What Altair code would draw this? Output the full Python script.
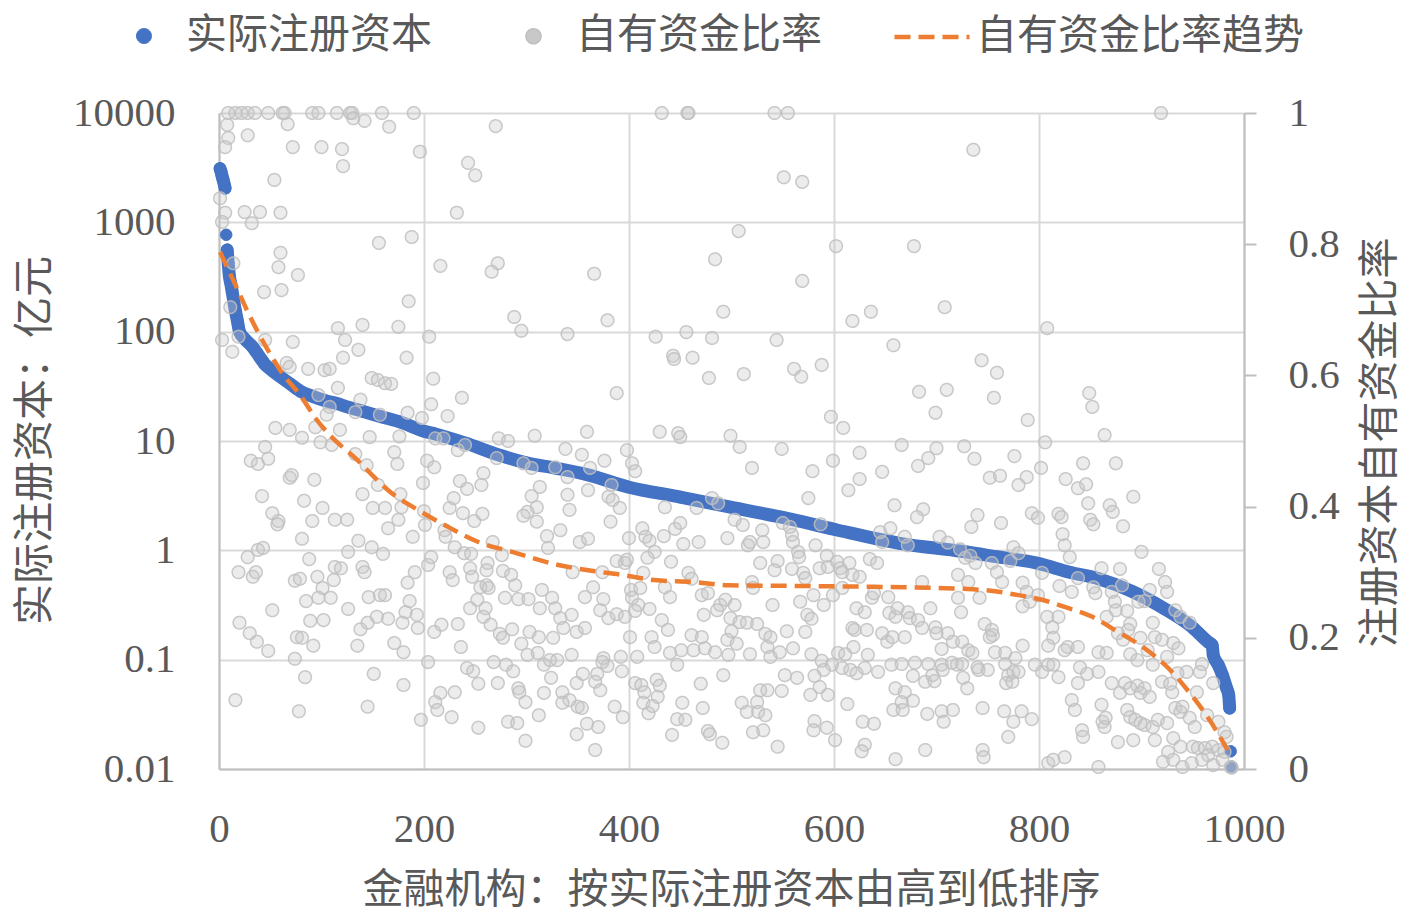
import altair as alt
import pandas as pd

series_names = ["实际注册资本", "自有资金比率", "自有资金比率趋势"]

# Registered capital (亿元), sorted descending by rank
capital_rank = [1,2,3,4,5,6,7,8,9,10,12,14,16,18,20,25,32,40,45,52,61,70,81,92,103,115,126,140,159,177,
                201,211,240,274,300,328,360,399,450,499,550,601,664,725,760,799,830,858,891,923,949,965,969,970,975,
                979,983,985,986,987,988]
capital_value = [3100,2900,2650,2450,2250,2050,770,560,420,330,260,200,155,125,100,86,74,58,50,44,38,33,28,25.5,23.5,
                 22,20.4,18.7,16.6,14.9,12.2,11.6,9.6,7.4,6.3,5.65,4.9,3.8,3.07,2.48,2.0,1.55,1.16,0.98,0.87,
                 0.76,0.63,0.55,0.42,0.29,0.20,0.145,0.136,0.11,0.089,0.072,0.055,0.048,0.036,0.0145,0.0105]

# Own-fund ratio per institution (rank, ratio)
ratio_points = [
 (9,1),(16,1),(22,1),(28,1),(35,1),(48,1),(62,1),(64,1),(91,1),(97,1),(115,1),(128,1),(130,1),(159,1),(190,1),
 (432,1),(457,1),(458,1),(542,1),(555,1),(919,1),
 (166,.979),(142,.988),(131,.992),(67,.983),(8,.982),(9,.962),(6,.948),(28,.966),(72,.948),(100,.948),(120,.945),
 (121,.919),(54,.898),(1,.870),(6,.848),(25,.849),(40,.849),(60,.848),(32,.832),(3,.834),(156,.802),(14,.771),
 (60,.787),(58,.765),(77,.753),(44,.727),(61,.730),(11,.704),(116,.672),(140,.677),(123,.654),(136,.639),(3,.654),
 (19,.659),(45,.654),(72,.651),(13,.636),(121,.627),(66,.619),(69,.613),(87,.610),(103,.608),(108,.610),(116,.581),
 (149,.596),(155,.593),(162,.588),(138,.563),(157,.540),(108,.552),(97,.570),(105,.540),(133,.544),(55,.520),
 (69,.517),(94,.521),(118,.517),(81,.505),
 (99,.498),(110,.494),(147,.506),(45,.491),(31,.470),(38,.465),(48,.473),(69,.444),(71,.448),(93,.441),(42,.416),
 (83,.409),(52,.390),(58,.378),(57,.373),(91,.378),(101,.398),(113,.380),(125,.380),(140,.419),(150,.398),(162,.398),
 (133,.480),(144,.463),(155,.433),(81,.351),(28,.323),(38,.334),(43,.337),(19,.300),(33,.293),(36,.300),(74,.287),
 (79,.290),(96,.293),(101,.276),(112,.288),(113,.308),(119,.306),(88,.320),(126,.331),(136,.348),(149,.338),
 (160,.328),(140,.308),(142,.300),(52,.242),(85,.256),(97,.261),(109,.261),(126,.244),(146,.262),(157,.265),
 (162,.265),(20,.223),(30,.207),(37,.194),(48,.180),(76,.201),(81,.200),(92,.188),(89,.226),(102,.227),(138,.213),
 (145,.223),(154,.232),(165,.229),(135,.188),(74,.168),(84,.140),(151,.145),(16,.105),(78,.088),(145,.095),
 (196,.941),(270,.980),(243,.924),(250,.905),(232,.848),(188,.811),(216,.767),(272,.771),(266,.758),(185,.713),
 (175,.674),(205,.659),(288,.689),(295,.668),(183,.627),(168,.587),(209,.595),(237,.566),(207,.556),(223,.538),
 (184,.543),(198,.535),(176,.507),(211,.504),(219,.504),(273,.504),(282,.500),(308,.508),
 (233,.486),(240,.494),(271,.474),(297,.466),(305,.459),(328,.460),(171,.483),(174,.465),(203,.470),(210,.460),
 (199,.436),(235,.439),(242,.427),(256,.433),(258,.451),(313,.430),(305,.416),(310,.399),(301,.392),(297,.386),
 (310,.377),(320,.355),(321,.337),(177,.419),(178,.399),(175,.380),(165,.367),(189,.354),(201,.372),(200,.393),
 (225,.398),(229,.413),(238,.390),(249,.378),(257,.389),(220,.364),(221,.354),(230,.338),(239,.329),(246,.328),
 (267,.346),(276,.326),(191,.300),(184,.284),(204,.311),(207,.323),(225,.300),(228,.288),(245,.306),(247,.293),
 (262,.314),(261,.303),(255,.277),(261,.280),(263,.276),(277,.302),(285,.296),(289,.280),(252,.258),(260,.245),
 (245,.245),(279,.261),(292,.259),(302,.259),(315,.273),(313,.245),(325,.261),(186,.256),(182,.239),(179,.223),
 (193,.235),(194,.215),(210,.209),(217,.220),(233,.221),(258,.232),(265,.220),(274,.206),(277,.200),(286,.213),
 (295,.191),(303,.209),(312,.201),(171,.192),(180,.178),(236,.186),(204,.163),(242,.154),(248,.149),(268,.163),
 (280,.159),(287,.149),(301,.174),(311,.177),(317,.159),(323,.166),(180,.128),(216,.116),(211,.102),(213,.090),
 (230,.117),(253,.130),(272,.131),(292,.123),(293,.117),(299,.102),(317,.116),(324,.139),(197,.075),(227,.079),
 (253,.063),(282,.072),(291,.070),(312,.082),(299,.043),(328,.245),(326,.200),
 (484,.777),(366,.755),(492,.697),(379,.684),(340,.663),(426,.659),(456,.666),(481,.657),(443,.630),(444,.625),
 (462,.627),(478,.596),(388,.573),(359,.514),(430,.514),(448,.512),(450,.506),(499,.508),
 (338,.488),(354,.479),(376,.470),(398,.486),(403,.466),(406,.454),(362,.459),(340,.445),(340,.418),(360,.425),
 (342,.395),(383,.433),(380,.415),(384,.410),(391,.398),(382,.377),(333,.364),(352,.346),(360,.351),(400,.352),
 (413,.367),(416,.354),(420,.348),(425,.331),(435,.399),(434,.355),(445,.366),(450,.375),(453,.343),(468,.346),
 (481,.413),(487,.405),(466,.398),(496,.352),(388,.317),(396,.314),(398,.319),(418,.322),(414,.299),(441,.316),
 (345,.300),(374,.300),(365,.277),(357,.262),(375,.259),(402,.273),(411,.276),(403,.261),(409,.250),(420,.244),
 (435,.277),(440,.262),(458,.299),(461,.290),(471,.265),(477,.268),(489,.250),(486,.242),(333,.230),(344,.235),
 (372,.242),(380,.230),(388,.236),(396,.232),(406,.241),(432,.227),(438,.212),(473,.235),(336,.215),(349,.209),
 (357,.215),(401,.201),(422,.201),(425,.186),(461,.204),(471,.201),(440,.177),(451,.181),(463,.181),(474,.184),
 (484,.178),(496,.197),(344,.174),(375,.169),(379,.157),(374,.163),(392,.171),(408,.171),(393,.149),(447,.159),
 (330,.166),(355,.145),(369,.145),(367,.133),(349,.131),(372,.120),(406,.131),(412,.128),(427,.136),(430,.127),
 (428,.110),(415,.117),(470,.130),(492,.143),(335,.117),(342,.105),(335,.101),(350,.095),(354,.093),(386,.095),
 (394,.079),(414,.101),(419,.085),(423,.096),(452,.101),(447,.076),(455,.075),(472,.093),(359,.069),(370,.064),
 (349,.053),(367,.029),(442,.052),(477,.058),(479,.053),(491,.040),
 (551,.902),(569,.895),(507,.820),(602,.797),(569,.744),(618,.683),(636,.697),(544,.654),(658,.646),(512,.602),
 (561,.610),(568,.598),(588,.616),(597,.537),(609,.520),
 (508,.491),(549,.488),(520,.459),(579,.454),(599,.470),(625,.482),(647,.453),(625,.442),(614,.425),(575,.413),
 (659,.402),(503,.380),(511,.372),(516,.341),(518,.346),(530,.364),(531,.346),(550,.375),(557,.369),(559,.357),
 (560,.346),(565,.331),(566,.323),(582,.341),(587,.373),(645,.361),(647,.346),(655,.367),(528,.314),(545,.317),
 (542,.303),(559,.305),(570,.299),(572,.291),(586,.306),(593,.325),(594,.308),(603,.316),(606,.306),(615,.314),
 (608,.300),(618,.296),(625,.293),(635,.320),(642,.314),(494,.258),(503,.250),(520,.285),(521,.276),(540,.250),
 (567,.255),(574,.235),(578,.229),(580,.265),(590,.250),(599,.265),(608,.276),(622,.245),(630,.239),(637,.261),
 (639,.268),(653,.262),(654,.238),(660,.232),(499,.230),(500,.210),(508,.224),(515,.223),(525,.221),(505,.191),
 (497,.174),(518,.175),(533,.206),(538,.201),(535,.186),(538,.171),(547,.178),(554,.210),(560,.184),(572,.209),
 (578,.175),(618,.215),(620,.212),(632,.212),(647,.207),(652,.194),(619,.186),(604,.177),(611,.175),(633,.174),
 (657,.201),(588,.165),(598,.159),(608,.154),(616,.151),(590,.151),(622,.146),(630,.154),(643,.148),(656,.159),
 (552,.143),(564,.139),(581,.142),(586,.125),(577,.113),(594,.113),(549,.119),(535,.120),(528,.120),(510,.101),
 (525,.102),(515,.087),(526,.087),(533,.082),(521,.056),(531,.059),(581,.073),(580,.059),(593,.063),(601,.044),
 (613,.099),(628,.072),(639,.069),(630,.037),(627,.027),(545,.034),(660,.015),(658,.090),
 (736,.944),(678,.797),(708,.704),(808,.672),(744,.623),(759,.604),(683,.575),(710,.578),(756,.566),(699,.543),
 (789,.532),(806,.498),
 (666,.494),(700,.489),(692,.474),(682,.462),(727,.492),(737,.473),(776,.477),(802,.459),(752,.444),(762,.447),
 (788,.445),(780,.433),(826,.442),(687,.396),(681,.384),(740,.387),(734,.369),(763,.375),(793,.390),(799,.383),
 (819,.389),(822,.384),(823,.358),(825,.341),(669,.354),(672,.341),(703,.354),(711,.345),(723,.335),(728,.322),
 (733,.325),(738,.314),(754,.314),(759,.300),(764,.285),(775,.338),(780,.329),(772,.317),(784,.284),(803,.299),
 (820,.279),(686,.285),(721,.296),(731,.285),(721,.261),(724,.239),(742,.261),(788,.270),(791,.255),(784,.248),
 (799,.265),(808,.232),(819,.232),(813,.216),(814,.200),(809,.188),(662,.245),(672,.239),(674,.230),(682,.227),
 (694,.245),(686,.215),(669,.201),(699,.216),(700,.207),(711,.207),(716,.194),(725,.194),(705,.183),(731,.181),
 (735,.177),(747,.221),(754,.212),(755,.204),(752,.201),(757,.178),(767,.177),(784,.188),(777,.169),(666,.160),
 (679,.162),(692,.160),(705,.159),(715,.162),(720,.159),(706,.151),(725,.160),(740,.155),(741,.151),(750,.151),
 (767,.160),(770,.143),(775,.148),(780,.148),(796,.159),(803,.148),(809,.159),(814,.159),(819,.140),(677,.142),
 (689,.133),(696,.143),(698,.134),(726,.139),(730,.123),(768,.131),(774,.133),(660,.123),(669,.117),(666,.102),
 (677,.104),(667,.090),(691,.084),(705,.088),(716,.090),(707,.072),(745,.093),(766,.088),(775,.072),(783,.088),
 (793,.076),(770,.049),(689,.029),(745,.029),(746,.018),(809,.009),(814,.014),(825,.018),
 (849,.573),(852,.552),(864,.509),
 (843,.466),(875,.466),(838,.428),(846,.434),(848,.405),(869,.402),(872,.392),(892,.415),(850,.380),(853,.373),
 (882,.370),(830,.323),(900,.331),(917,.305),(923,.285),(925,.270),(879,.305),(861,.306),(838,.291),(853,.277),
 (855,.268),(832,.270),(871,.270),(881,.280),(908,.273),(903,.256),(874,.255),(875,.242),(886,.241),(866,.232),
 (897,.255),(933,.242),(938,.232),(947,.223),(911,.223),(889,.221),(887,.212),(899,.200),(877,.207),(882,.197),
 (913,.201),(920,.197),(931,.192),(936,.184),(828,.186),(838,.186),(858,.178),(866,.177),(889,.175),(896,.166),
 (906,.181),(911,.159),(925,.171),(959,.160),(957,.148),(944,.148),(935,.146),(840,.155),(847,.145),(858,.148),
 (838,.131),(871,.131),(879,.116),(884,.131),(896,.127),(899,.116),(903,.123),(889,.123),(908,.110),(920,.133),
 (928,.130),(930,.117),(954,.117),(970,.131),(832,.105),(835,.090),(861,.098),(862,.072),(864,.064),(865,.078),
 (886,.090),(889,.079),(894,.075),(899,.070),(903,.067),(911,.064),(916,.075),(925,.070),(933,.093),(938,.087),
 (940,.095),(947,.078),(952,.064),(964,.082),(975,.072),(981,.056),(983,.049),(842,.059),(843,.049),(877,.041),
 (892,.044),(913,.044),(931,.047),(938,.034),(926,.026),(950,.034),(955,.032),(962,.032),(969,.034),(975,.029),
 (965,.021),(981,.026),(921,.011),(931,.014),(940,.003),(949,.009),(959,.014),(970,.006),(979,.014),(987,.003),
 (988,.002),(858,.003),(825,.181),
]

# Trend of own-fund ratio
trend_rank = [1,16,28,45,61,81,94,110,116,133,152,165,194,220,253,286,331,360,393,425,464,497,567,669,701,735,757,
              780,803,825,852,877,903,926,945,965,984]
trend_ratio = [0.788,0.738,0.697,0.646,0.605,0.566,0.535,0.506,0.497,0.474,0.444,0.425,0.395,0.372,0.346,0.331,
               0.311,0.303,0.296,0.288,0.285,0.280,0.279,0.277,0.276,0.274,0.271,0.265,0.258,0.247,0.232,0.209,
               0.184,0.154,0.120,0.078,0.029]

blue_df = pd.DataFrame({"rank": capital_rank, "value": capital_value})
blue_df["series"] = series_names[0]
blue_df["seg"] = ["a" if r <= 6 else ("b" if 8 <= r <= 986 else None) for r in capital_rank]
band_df = blue_df[blue_df["seg"].notna()]

grey_df = pd.DataFrame(ratio_points, columns=["rank", "ratio"])
grey_df["series"] = series_names[1]

trend_df = pd.DataFrame({"rank": trend_rank, "ratio": trend_ratio})
trend_df["series"] = series_names[2]

BLUE = "#4472C4"
ORANGE = "#ED7D31"
circle_path = "M-0.2,0A0.2,0.2,0,1,1,0.2,0A0.2,0.2,0,1,1,-0.2,0Z"
line_path = "M-1,0L1,0"

leg = alt.Legend(title=None)
fill_enc = alt.Fill("series:N", scale=alt.Scale(domain=series_names, range=[BLUE, "#C8C8C8", "transparent"]), legend=leg)
stroke_enc = alt.Stroke("series:N", scale=alt.Scale(domain=series_names, range=[BLUE, "#BFBFBF", ORANGE]), legend=leg)
shape_enc = alt.Shape("series:N", scale=alt.Scale(domain=series_names, range=[circle_path, circle_path, line_path]), legend=leg)
dash_enc = alt.StrokeDash("series:N", scale=alt.Scale(domain=series_names, range=[[1, 0], [1, 0], [16, 8]]), legend=leg)
sw_enc = alt.StrokeWidth("series:N", scale=alt.Scale(type="ordinal", domain=series_names, range=[1, 1.5, 4.5]), legend=leg)

x_enc = alt.X("rank:Q", scale=alt.Scale(domain=[0, 1000], nice=False, zero=False),
              axis=alt.Axis(values=[0, 200, 400, 600, 800, 1000], format="d", grid=True, ticks=False,
                            labelPadding=40, labelFlush=False, title="金融机构：按实际注册资本由高到低排序",
                            titleY=121, titleBaseline="middle", titleAlign="center", titleX=512))

y_left = alt.Y("value:Q", scale=alt.Scale(type="log", domain=[0.01, 10000], nice=False),
               axis=alt.Axis(orient="left", values=[0.01, 0.1, 1, 10, 100, 1000, 10000], format="~g",
                             grid=True, ticks=False, labelPadding=44, labelFlush=False, title="实际注册资本：亿元",
                             titleAngle=270, titleX=-184, titleY=327, titleBaseline="middle",
                             titleAlign="center"))

y_right = alt.Y("ratio:Q", scale=alt.Scale(domain=[0, 1], nice=False),
                axis=alt.Axis(orient="right", values=[0, 0.2, 0.4, 0.6, 0.8, 1], format="~g", grid=False,
                              ticks=True, tickSize=12, labelPadding=32, labelFlush=False,
                              title="注册资本自有资金比率",
                              titleAngle=270, titleX=136, titleY=329, titleBaseline="middle",
                              titleAlign="center"))

band = alt.Chart(band_df).mark_line(color=BLUE, strokeWidth=13, strokeCap="round", strokeJoin="round",
                                    interpolate="monotone").encode(x=x_enc, y=y_left, detail="seg:N")
blue_pts = alt.Chart(blue_df).mark_point(filled=True, size=3300, opacity=1).encode(
    x=x_enc, y=y_left, fill=fill_enc, stroke=stroke_enc, shape=shape_enc, strokeDash=dash_enc, strokeWidth=sw_enc)

grey_pts = alt.Chart(grey_df).mark_point(filled=True, size=4000, fillOpacity=0.35, strokeOpacity=0.85).encode(
    x=x_enc, y=y_right, fill=fill_enc, stroke=stroke_enc, shape=shape_enc, strokeDash=dash_enc, strokeWidth=sw_enc)
trend = alt.Chart(trend_df).mark_line(interpolate="monotone", strokeCap="butt").encode(
    x=x_enc, y=y_right, stroke=stroke_enc, strokeDash=dash_enc, strokeWidth=sw_enc)

chart = alt.layer(
    alt.layer(band, blue_pts),
    alt.layer(grey_pts, trend),
).resolve_scale(y="independent").properties(
    width=1025, height=656,
    autosize=alt.AutoSizeParams(type="none"),
    padding={"left": 219, "top": 113, "right": 162, "bottom": 144},
    background="white",
).configure_view(stroke=None).configure_axis(
    labelFont="Liberation Serif", labelFontSize=41, labelColor="#595959", labelFlush=False,
    titleFont="Noto Sans CJK SC", titleFontSize=41, titleColor="#595959", titleFontWeight="normal",
    titleLimit=1000, domainColor="#BFBFBF", domainWidth=2, gridColor="#D9D9D9", gridWidth=2,
    tickColor="#BFBFBF", tickWidth=2,
).configure_legend(
    orient="none", legendX=-113, legendY=-116, direction="horizontal", symbolSize=5625,
    labelFont="Noto Sans CJK SC", labelFontSize=41, labelColor="#595959", labelLimit=800,
    labelOffset=4, columnPadding=63, padding=0,
)

chart.save("out.html", embed_options={"renderer": "svg", "actions": False})
